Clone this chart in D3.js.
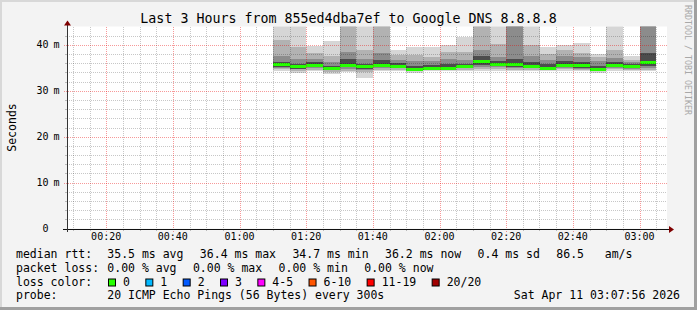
<!DOCTYPE html>
<html>
<head>
<meta charset="utf-8">
<script src="https://cdn.jsdelivr.net/npm/d3@7"></script>
<style>
  body { margin: 0; background: #f3f3f3; }
  svg { display: block; }
  text { font-family: "DejaVu Sans Mono", monospace; fill: #000; }
</style>
</head>
<body>
<div id="chart"></div>
<script>
// 5 minute slots (start time) that hold data
var slots = ["01:10", "01:15", "01:20", "01:25", "01:30", "01:35", "01:40", "01:45", "01:50", "01:55", "02:00", "02:05",
  "02:10", "02:15", "02:20", "02:25", "02:30", "02:35", "02:40", "02:45", "02:50", "02:55", "03:00"];
// median rtt (ms)
var median = [35.8, 35.3, 35.7, 35.0, 35.7, 35.3, 35.7, 35.4, 34.7, 35.0, 35.0, 35.3,
  36.4, 35.9, 35.8, 35.4, 35.0, 35.7, 35.7, 34.8, 35.7, 35.3, 36.2];
// smoke bands, outer to inner (ms)
var pingMin = [34.3, 33.8, 34.3, 33.7, 34.0, 32.8, 34.2, 34.3, 33.9, 34.2, 34.2, 34.3,
  34.3, 34.4, 34.3, 34.3, 34.4, 34.4, 34.2, 33.9, 34.4, 34.3, 34.3];
var pingMax = [45, 45, 39.8, 40.9, 46, 45, 46, 38.9, 39.5, 39.6, 40.0, 41.8,
  46, 45, 47, 45, 39.6, 40.0, 40.4, 38.0, 45, 37.5, 47];
var p10 = [34.7, 34.3, 34.6, 34.1, 34.4, 34.0, 34.5, 34.6, 34.2, 34.5, 34.5, 34.6,
  34.7, 34.8, 34.6, 34.6, 34.6, 34.7, 34.5, 34.2, 34.7, 34.6, 34.6];
var p90 = [41.0, 39.5, 38.2, 37.5, 45, 38.8, 45, 37.8, 37.7, 37.3, 38.4, 38.5,
  45, 40.2, 46, 40.0, 38.0, 38.8, 38.2, 37.3, 38.8, 36.8, 46];
var p25 = [35.0, 34.7, 35.0, 34.5, 34.8, 34.5, 34.9, 34.9, 34.4, 34.7, 34.7, 34.9,
  35.2, 35.1, 34.9, 34.9, 34.8, 35.0, 34.8, 34.5, 35.0, 34.8, 34.9];
var p75 = [37.5, 37.0, 37.0, 36.2, 38.5, 37.0, 38.2, 36.8, 36.5, 36.5, 37.0, 36.8,
  38.8, 37.3, 45, 37.5, 36.8, 37.6, 37.3, 36.5, 37.2, 36.2, 45];
var p40 = [35.2, 34.8, 35.1, 34.6, 35.1, 34.8, 35.1, 35.0, 34.5, 34.8, 34.8, 35.0,
  35.6, 35.4, 35.2, 35.0, 34.9, 35.2, 35.0, 34.6, 35.2, 34.9, 35.3];
var p60 = [36.2, 35.8, 36.2, 35.5, 37.0, 35.8, 36.8, 36.0, 35.4, 35.6, 35.8, 35.9,
  37.5, 36.5, 37.0, 36.2, 35.9, 36.4, 36.3, 35.5, 36.2, 35.8, 38.3];

var yTicks = [0, 10, 20, 30, 40];
var yTickLabels = ["0", "10 m", "20 m", "30 m", "40 m"];
var xTickLabels = ["00:20", "00:40", "01:00", "01:20", "01:40", "02:00", "02:20", "02:40", "03:00"];

var rttItems = ["35.5 ms avg", "36.4 ms max", "34.7 ms min", "36.2 ms now", "0.4 ms sd", "86.5   am/s"];
var lossItems = ["0.00 % avg", "0.00 % max", "0.00 % min", "0.00 % now"];
var lossLabels = ["0", "1", "2", "3", "4-5", "6-10", "11-19", "20/20"];
var lossColors = ["#26ff00", "#00b8ff", "#0059ff", "#7e00ff", "#ff00ff", "#ff5500", "#ff0000", "#a10000"];
var probeText = "20 ICMP Echo Pings (56 Bytes) every 300s";
var stampText = "Sat Apr 11 03:07:56 2026";

var W = 697, H = 310;
var plot = { left: 67, right: 667, top: 26.5, bottom: 228.5 };
var parseT = d3.timeParse("%H:%M:%S");
var parseHM = d3.timeParse("%H:%M");

var svg = d3.select("#chart").append("svg").attr("width", W).attr("height", H);

// frame
svg.append("rect").attr("width", W).attr("height", H).attr("fill", "#f3f3f3");
svg.append("rect").attr("x", 0).attr("y", 0).attr("width", W).attr("height", 2).attr("fill", "#d8d8d8");
svg.append("rect").attr("x", 0).attr("y", 0).attr("width", 2).attr("height", H).attr("fill", "#d8d8d8");
svg.append("rect").attr("x", 0).attr("y", H - 3).attr("width", W).attr("height", 3).attr("fill", "#a0a0a0");
svg.append("rect").attr("x", W - 3).attr("y", 0).attr("width", 3).attr("height", H).attr("fill", "#a0a0a0");

var x = d3.scaleTime().domain([parseT("00:08:15"), parseT("03:08:15")]).range([plot.left, plot.right]);
var y = d3.scaleLinear().domain([0, 44]).range([plot.bottom, plot.top]);

svg.append("rect").attr("x", plot.left).attr("y", plot.top)
  .attr("width", plot.right - plot.left).attr("height", plot.bottom - plot.top).attr("fill", "#fff");

svg.append("clipPath").attr("id", "clip").append("rect")
  .attr("x", plot.left).attr("y", plot.top).attr("width", plot.right - plot.left).attr("height", plot.bottom - plot.top);

var bars = slots.map(function (s, i) {
  var t0 = parseHM(s);
  return { t0: t0, t1: d3.timeMinute.offset(t0, 5), i: i };
});

var bands = [
  { lo: pingMin, hi: pingMax, color: "#d6d6d6" },
  { lo: p10, hi: p90, color: "#b2b2b2" },
  { lo: p25, hi: p75, color: "#8c8c8c" },
  { lo: p40, hi: p60, color: "#4c4c4c" }
];

var smoke = svg.append("g").attr("clip-path", "url(#clip)").attr("shape-rendering", "crispEdges");
bands.forEach(function (b) {
  smoke.selectAll(null).data(bars).enter().append("rect")
    .attr("x", function (d) { return x(d.t0); })
    .attr("width", function (d) { return x(d.t1) - x(d.t0); })
    .attr("y", function (d) { return y(b.hi[d.i]); })
    .attr("height", function (d) { return y(b.lo[d.i]) - y(b.hi[d.i]); })
    .attr("fill", b.color);
});

smoke.selectAll(".med").data(bars).enter().append("rect")
  .attr("class", "med")
  .attr("x", function (d) { return x(d.t0); })
  .attr("width", function (d) { return x(d.t1) - x(d.t0); })
  .attr("y", function (d) { return Math.round(y(median[d.i])) - 1; })
  .attr("height", 3)
  .attr("fill", lossColors[0]);

// grid
var minorCol = "rgba(0,0,0,0.22)", majorCol = "rgba(235,0,0,0.4)";
var grid = svg.append("g").attr("shape-rendering", "crispEdges");
var yMinor = d3.range(2, 44, 2).filter(function (v) { return v % 10 !== 0; });
grid.selectAll(".ym").data(yMinor).enter().append("line")
  .attr("x1", plot.left).attr("x2", plot.right)
  .attr("y1", function (d) { return Math.round(y(d)) + 0.5; })
  .attr("y2", function (d) { return Math.round(y(d)) + 0.5; })
  .attr("stroke", minorCol).attr("stroke-dasharray", "1,1");
var xMinor = x.ticks(d3.timeMinute.every(5)).filter(function (t) { return t.getMinutes() % 20 !== 0; });
grid.selectAll(".xm").data(xMinor).enter().append("line")
  .attr("x1", function (d) { return Math.round(x(d)) + 0.5; })
  .attr("x2", function (d) { return Math.round(x(d)) + 0.5; })
  .attr("y1", plot.top).attr("y2", plot.bottom)
  .attr("stroke", minorCol).attr("stroke-dasharray", "1,1");
grid.selectAll(".yM").data(yTicks.slice(1)).enter().append("line")
  .attr("x1", plot.left - 3).attr("x2", plot.right)
  .attr("y1", function (d) { return Math.round(y(d)) + 0.5; })
  .attr("y2", function (d) { return Math.round(y(d)) + 0.5; })
  .attr("stroke", majorCol).attr("stroke-dasharray", "1,1");
grid.selectAll(".xM").data(xTickLabels).enter().append("line")
  .attr("x1", function (d) { return Math.round(x(parseHM(d))) + 0.5; })
  .attr("x2", function (d) { return Math.round(x(parseHM(d))) + 0.5; })
  .attr("y1", plot.top).attr("y2", plot.bottom + 3)
  .attr("stroke", majorCol).attr("stroke-dasharray", "1,1");
// small ticks on axes
grid.selectAll(".ymt").data(yMinor).enter().append("line")
  .attr("x1", plot.left - 2).attr("x2", plot.left)
  .attr("y1", function (d) { return Math.round(y(d)) + 0.5; })
  .attr("y2", function (d) { return Math.round(y(d)) + 0.5; })
  .attr("stroke", "#bbb");
grid.selectAll(".xmt").data(xMinor).enter().append("line")
  .attr("x1", function (d) { return Math.round(x(d)) + 0.5; })
  .attr("x2", function (d) { return Math.round(x(d)) + 0.5; })
  .attr("y1", plot.bottom).attr("y2", plot.bottom + 2)
  .attr("stroke", "#bbb");

// axes
var axisG = svg.append("g").attr("shape-rendering", "crispEdges");
axisG.append("line").attr("x1", plot.left - 4).attr("x2", plot.right + 3)
  .attr("y1", Math.round(plot.bottom) + 0.5).attr("y2", Math.round(plot.bottom) + 0.5).attr("stroke", "#111");
axisG.append("line").attr("x1", plot.left + 0.5).attr("x2", plot.left + 0.5)
  .attr("y1", plot.bottom + 3).attr("y2", plot.top - 2).attr("stroke", "#333");
svg.append("path").attr("d", "M" + (plot.right + 7) + "," + (Math.round(plot.bottom) + 0.5) + "l-5,-3.5v7z").attr("fill", "#7f0000");
svg.append("path").attr("d", "M" + (plot.left + 0.5) + "," + (plot.top - 6) + "l-3.5,5h7z").attr("fill", "#7f0000");

// tick labels
svg.selectAll(".xl").data(xTickLabels).enter().append("text")
  .attr("x", function (d) { return x(parseHM(d)); })
  .attr("y", 240).attr("text-anchor", "middle").attr("font-size", "10px").text(function (d) { return d; });
yTicks.forEach(function (v, i) {
  var parts = yTickLabels[i].split(" ");
  svg.append("text").attr("x", 48.5).attr("y", y(v) + 3.5).attr("text-anchor", "end")
    .attr("font-size", "10px").text(parts[0]);
  if (parts[1]) {
    svg.append("text").attr("x", 53.5).attr("y", y(v) + 3.5).attr("font-size", "10px").text(parts[1]);
  }
});

// titles
svg.append("text").attr("x", 348.5).attr("y", 23).attr("text-anchor", "middle").attr("font-size", "13.3px")
  .text("Last 3 Hours from 855ed4dba7ef to Google DNS 8.8.8.8");
svg.append("text").attr("transform", "translate(15.5," + ((plot.top + plot.bottom) / 2) + ") rotate(-90)")
  .attr("text-anchor", "middle").attr("font-size", "11.5px").text("Seconds");
svg.append("text").attr("transform", "translate(685,5) rotate(90)")
  .attr("font-size", "8.3px").style("fill", "#a8a8a8").text("RRDTOOL / TOBI OETIKER");

// legend
var lf = "11.5px", gap = 16.4, col0 = 16, col1 = 107.3;
var rows = [258, 271.8, 285.5, 299.3];
function itemRow(label, items, yy) {
  svg.append("text").attr("x", col0).attr("y", yy).attr("font-size", lf).text(label);
  var cx = col1;
  items.forEach(function (s) {
    var t = svg.append("text").attr("x", cx).attr("y", yy).attr("font-size", lf)
      .attr("xml:space", "preserve").style("white-space", "pre").text(s);
    cx += t.node().getComputedTextLength() + gap;
  });
}
itemRow("median rtt:", rttItems, rows[0]);
itemRow("packet loss:", lossItems, rows[1]);

svg.append("text").attr("x", col0).attr("y", rows[2]).attr("font-size", lf).text("loss color:");
var bx = col1 + 0.7;
lossLabels.forEach(function (s, i) {
  svg.append("rect").attr("x", bx + 0.5).attr("y", rows[2] - 6.5).attr("width", 7).attr("height", 7)
    .attr("fill", lossColors[i]).attr("stroke", "#000").attr("stroke-width", 1);
  var t = svg.append("text").attr("x", bx + 15).attr("y", rows[2]).attr("font-size", lf).text(s);
  bx = bx + 15 + t.node().getComputedTextLength() + 15.4;
});

svg.append("text").attr("x", col0).attr("y", rows[3]).attr("font-size", lf).text("probe:");
svg.append("text").attr("x", col1).attr("y", rows[3]).attr("font-size", lf).text(probeText);
svg.append("text").attr("x", 680).attr("y", rows[3]).attr("text-anchor", "end").attr("font-size", lf).text(stampText);
</script>
</body>
</html>
